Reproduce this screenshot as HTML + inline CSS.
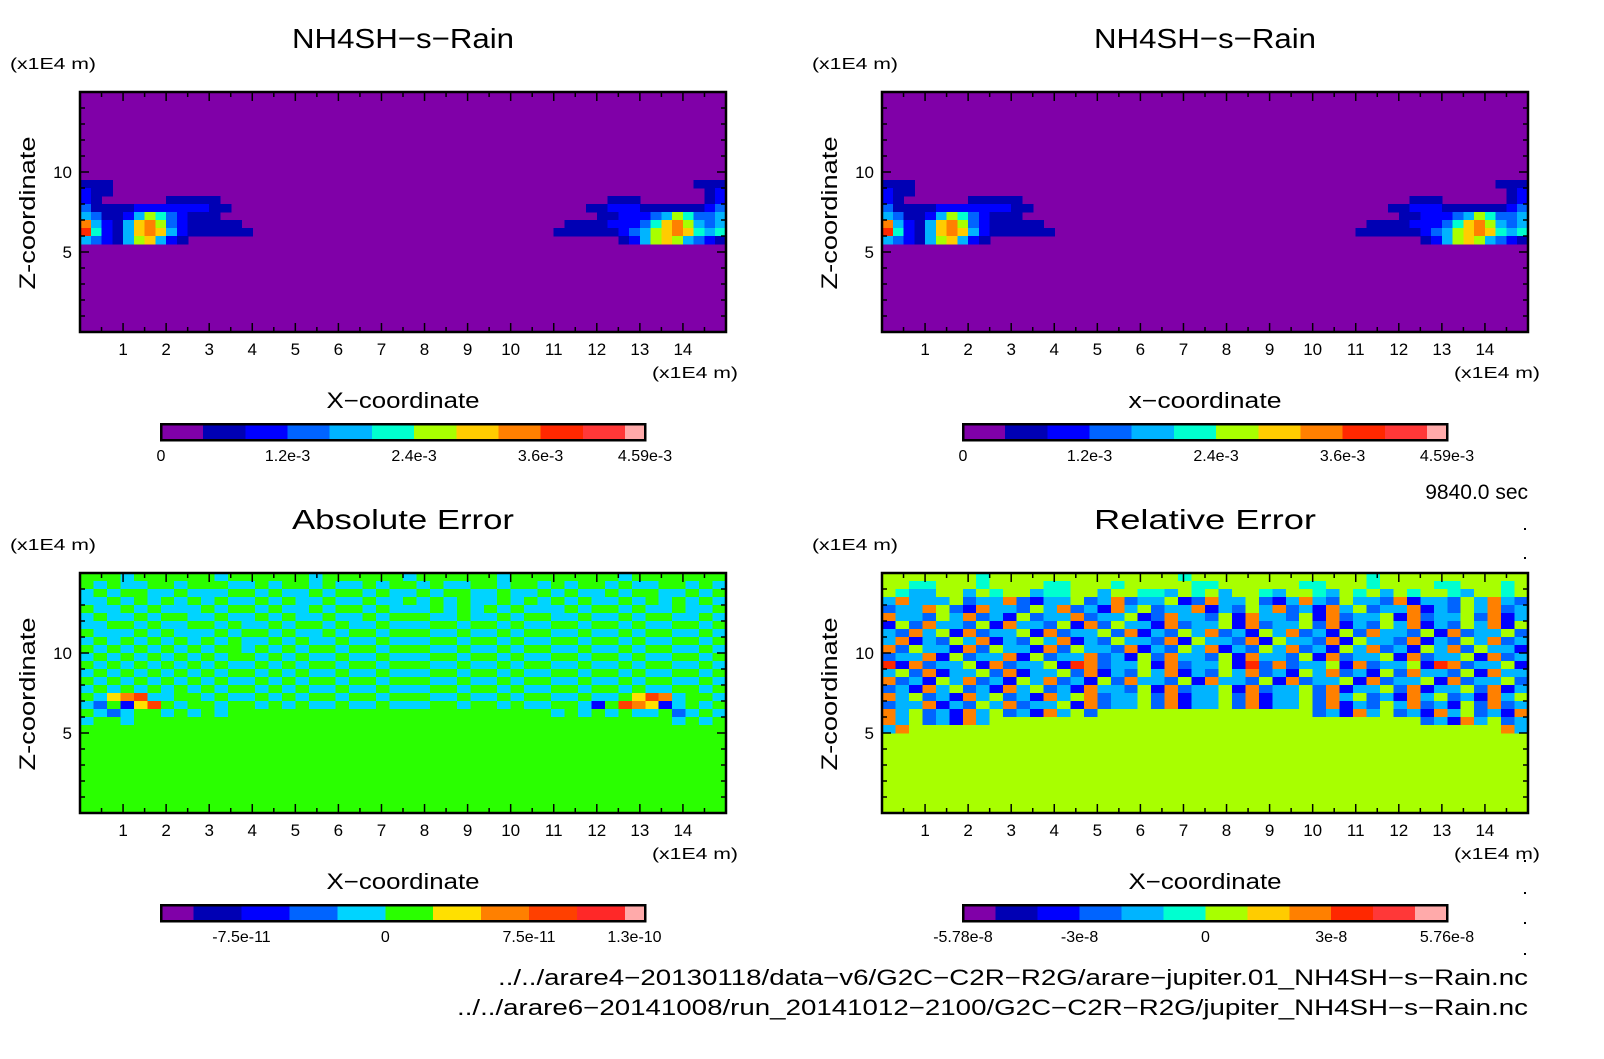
<!DOCTYPE html>
<html><head><meta charset="utf-8"><style>
html,body{margin:0;padding:0;background:#fff;}
svg text{font-family:"Liberation Sans",sans-serif;fill:#000;}
</style></head><body>
<svg id="fig" width="1604" height="1054" viewBox="0 0 1604 1054" xmlns="http://www.w3.org/2000/svg">
<rect width="1604" height="1054" fill="#fff"/>
</svg>
<script>
// ---------- data ----------
const rainColors = ['#8000a8','#0000b4','#0000ff','#0064ff','#00b4ff','#00ffd0','#a8ff00','#ffcc00','#ff8000','#ff2800','#ff3838','#ffaaaa'];
const rainLevels = [0,4e-4,8e-4,1.2e-3,1.6e-3,2.0e-3,2.4e-3,2.8e-3,3.2e-3,3.6e-3,4.0e-3,4.4e-3,4.59e-3];
const rainTicks = [0,1.2e-3,2.4e-3,3.6e-3,4.59e-3];
const rainTickLabels = ['0','1.2e-3','2.4e-3','3.6e-3','4.59e-3'];

const absColors = ['#8000a8','#0000b4','#0000ff','#0064ff','#00d4ff','#2aff00','#ffe000','#ff8000','#ff4000','#ff2828','#ffaaaa'];
const absLevels = [-1.17e-10,-1.0e-10,-7.5e-11,-5e-11,-2.5e-11,0,2.5e-11,5e-11,7.5e-11,1.0e-10,1.25e-10,1.355e-10];
const absTicks = [-7.5e-11,0,7.5e-11,1.3e-10];
const absTickLabels = ['-7.5e-11','0','7.5e-11','1.3e-10'];

const relColors = ['#8000a8','#0000b4','#0000ff','#0064ff','#00b4ff','#00ffd0','#a8ff00','#ffcc00','#ff8000','#ff2800','#ff3838','#ffaaaa'];
const relLevels = [-5.78e-8,-5e-8,-4e-8,-3e-8,-2e-8,-1e-8,0,1e-8,2e-8,3e-8,4e-8,5e-8,5.76e-8];
const relTicks = [-5.78e-8,-3e-8,0,3e-8,5.76e-8];
const relTickLabels = ['-5.78e-8','-3e-8','0','3e-8','5.76e-8'];

const xTicks = [1,2,3,4,5,6,7,8,9,10,11,12,13,14];
const yTicks = [5,10];

// rain blob: level indices, rows z 9.5 -> 5.5 (0.5 step), cols 0.25 in x
const blobLeft = [
"1110000000000000",
"2110000000000000",
"2100000011111000",
"3111122222221100",
"4311246532111000",
"8421478632111110",
"9521478742111111",
"4321467421000000"];
const blobRight = [
"0000000000000111",
"0000000000000012",
"0000011100000012",
"0001122211111123",
"0000112223465334",
"0111122235786434",
"1111112346787545",
"0000001246764321"];

// absolute error: level indices (hex), rows z 15 -> 5 (0.5 step), 48 cols
const absRows = [
"555455555545555554555555455555545555555545555555",
"545445545554454554544545545445545545455454455454",
"454554454445545445455454454554454454544545544545",
"445454545454454544544544545454454545454454545454",
"544545444545545445455454445454545444545545445445",
"454454554454454544544545554454454554454454554454",
"445545445545445455454454445545545445545545445545",
"544454544454554544545545554454454554454454554454",
"454545454545445454454454445545545445545545445545",
"545454545455454545545545554454454554454454554454",
"454545454545545454454454445545545445545545445545",
"545454545454454545545545554454454554454454554454",
"454545454545545454454454445545545445545545445545",
"545454545454454545545545554454454554454454554454",
"454545454545545454454454445545545445545545445545",
"546784455454454545545545554454454554454456874554",
"435268545545545454454454445545545445542587624545",
"543455454545555555555555555555555554545454453454",
"455455555555555555555555555555555555555555554545",
"555555555555555555555555555555555555555555555555"];

// relative error: level indices (hex), rows z 15 -> 5 (0.5 step), 48 cols
const relRows = [
"666666656666666666666656666666666666566666666666",
"665566656666556665666665566666655666566665566656",
"654466465664556646655465646654665465646566546656",
"484446344832446348344623844632484364438244364843",
"344863284436483428463448243648342846344824364834",
"844364834263448344623844362844362834462834463824",
"263844362844362836442834462834463824364824364826",
"438462834462834463824364834264834263844362834463",
"482436482436482436443826443826443826443824364834",
"836442836442836443824364824364834264834264836442",
"344826344826344834263844362844362834462834462834",
"928344628344629834462834462938344628344629834462",
"463824463824463824364824364834264834263844362844",
"834264834264834263844362844362834462834462834463",
"342846342846342844362834462834463824463824463824",
"846342846342846834463824463824463846342846342846",
"344824364834462834463824463824463824364834263834",
"846342846342846366666666666666663428463428463428",
"846342846666666666666666666666666666666634284634",
"486666666666666666666666666666666666666666666684"];

// ---------- drawing ----------
const NS='http://www.w3.org/2000/svg';
const svg=document.getElementById('fig');
function el(tag,attrs,parent){const e=document.createElementNS(NS,tag);for(const k in attrs)e.setAttribute(k,attrs[k]);(parent||svg).appendChild(e);return e;}
function txt(s,x,y,size,anchor,parent,extra){const t=el('text',Object.assign({x:x,y:y,'font-size':size,'text-anchor':anchor||'middle'},extra||{}),parent);t.textContent=s;return t;}

const PW=646, PH=240;
function panel(ox,oy,name,title,xlabel,bg,colors,drawCells,cb){
  const g=el('g',{});
  
  
  const sx=v=>ox+v/15*PW, sz=v=>oy+PH-v/15*PH;
  const t=txt(title,ox+323,oy-44,28,'middle',g,{textLength:222,lengthAdjust:'spacingAndGlyphs'});
  
  
  const u=txt('(x1E4 m)',ox-70,oy-23,16,'start',g,{textLength:86,lengthAdjust:'spacingAndGlyphs'});
  
  
  const plot=el('g',{'shape-rendering':'crispEdges'},g);
  
  
  el('rect',{x:ox,y:oy,width:PW,height:PH,fill:bg},plot);
  drawCells(plot,sx,sz,colors);
  const ax=el('g',{stroke:'#000','stroke-width':1.5},g);
  for(let v=0.5;v<15;v+=0.5){const L=(v%1===0)?9:5;
    el('line',{x1:sx(v),x2:sx(v),y1:oy+PH,y2:oy+PH-L},ax);el('line',{x1:sx(v),x2:sx(v),y1:oy,y2:oy+L},ax);}
  for(let v=1;v<15;v++){const L=(v%5===0)?9:5;
    el('line',{x1:ox,x2:ox+L,y1:sz(v),y2:sz(v)},ax);el('line',{x1:ox+PW,x2:ox+PW-L,y1:sz(v),y2:sz(v)},ax);}
  el('rect',{x:ox,y:oy,width:PW,height:PH,fill:'none',stroke:'#000','stroke-width':2.5},g);
  xTicks.forEach(v=>{const l=txt(String(v),sx(v),oy+PH+23,17,'middle',g);
    
    });
  yTicks.forEach(v=>{const l=txt(String(v),ox-8,sz(v)+6,17,'end',g);
    
    });
  const xu=txt('(x1E4 m)',ox+PW+12,oy+PH+46,16,'end',g,{textLength:86,lengthAdjust:'spacingAndGlyphs'});
  
  
  const xl=txt(xlabel,ox+323,oy+PH+76,22,'middle',g,{textLength:153,lengthAdjust:'spacingAndGlyphs'});
  
  
  const yl=txt('Z-coordinate',0,0,22,'middle',g,{transform:`translate(${ox-45},${oy+121}) rotate(-90)`,textLength:153,lengthAdjust:'spacingAndGlyphs'});
  
  
  const cg=el('g',{'shape-rendering':'crispEdges'},g);
  
  
  const cx0=ox+81, cw=484, cy=oy+332, ch=16;
  const lv=cb.levels, lo=lv[0], hi=lv[lv.length-1];
  const cxs=v=>cx0+(v-lo)/(hi-lo)*cw;
  for(let i=0;i<lv.length-1;i++){
    const r=el('rect',{x:cxs(lv[i]),y:cy,width:cxs(lv[i+1])-cxs(lv[i])+0.5,height:ch,fill:colors[i]},cg);
    
    
  }
  el('rect',{x:cx0,y:cy,width:cw,height:ch,fill:'none',stroke:'#000','stroke-width':2.5},cg);
  cb.ticks.forEach((v,i)=>{const l=txt(cb.labels[i],cxs(v),cy+37,16,'middle',g);
    
    });
}

function rainCells(plot,sx,sz,colors){
  [[blobLeft,0],[blobRight,11]].forEach(([rows,x0])=>{
    rows.forEach((row,r)=>{const zt=9.5-r*0.5;
      for(let c=0;c<row.length;c++){const k=parseInt(row[c],16);if(k===0)continue;
        const x=x0+c*0.25;
        const rc=el('rect',{x:sx(x),y:sz(zt),width:sx(x+0.25)-sx(x)+0.6,height:sz(zt-0.5)-sz(zt)+0.6,fill:colors[k]},plot);
        
        }
    });
  });
}
function gridCells(rows){return function(plot,sx,sz,colors){
  rows.forEach((row,r)=>{const zt=15-r*0.5;
    for(let c=0;c<row.length;c++){const k=parseInt(row[c],16);const x=c*15/48;
      const rc=el('rect',{x:sx(x),y:sz(zt),width:sx(x+15/48)-sx(x)+0.6,height:sz(zt-0.5)-sz(zt)+0.6,fill:colors[k]},plot);
      
      }
  });
};}

panel(80,92,'panel-rain-1','NH4SH\u2212s\u2212Rain','X\u2212coordinate','#8000a8',rainColors,rainCells,{levels:rainLevels,ticks:rainTicks,labels:rainTickLabels});
panel(882,92,'panel-rain-2','NH4SH\u2212s\u2212Rain','x\u2212coordinate','#8000a8',rainColors,rainCells,{levels:rainLevels,ticks:rainTicks,labels:rainTickLabels});
panel(80,573,'panel-absolute-error','Absolute Error','X\u2212coordinate','#2aff00',absColors,gridCells(absRows),{levels:absLevels,ticks:absTicks,labels:absTickLabels});
panel(882,573,'panel-relative-error','Relative Error','X\u2212coordinate','#a8ff00',relColors,gridCells(relRows),{levels:relLevels,ticks:relTicks,labels:relTickLabels});

const tm=txt('9840.0 sec',1528,499,21,'end');


const f1=txt('../../arare4\u221220130118/data\u2212v6/G2C\u2212C2R\u2212R2G/arare\u2212jupiter.01_NH4SH\u2212s\u2212Rain.nc',1528,985,22,'end',null,{textLength:1030,lengthAdjust:'spacingAndGlyphs'});


const f2=txt('../../arare6\u221220141008/run_20141012\u22122100/G2C\u2212C2R\u2212R2G/jupiter_NH4SH\u2212s\u2212Rain.nc',1528,1015,22,'end',null,{textLength:1071,lengthAdjust:'spacingAndGlyphs'});


[528,557,860,892,922,953].forEach(y=>{const d=el('rect',{x:1524,y:y,width:2,height:2,fill:'#000'});
  
  });
</script>
</body></html>
